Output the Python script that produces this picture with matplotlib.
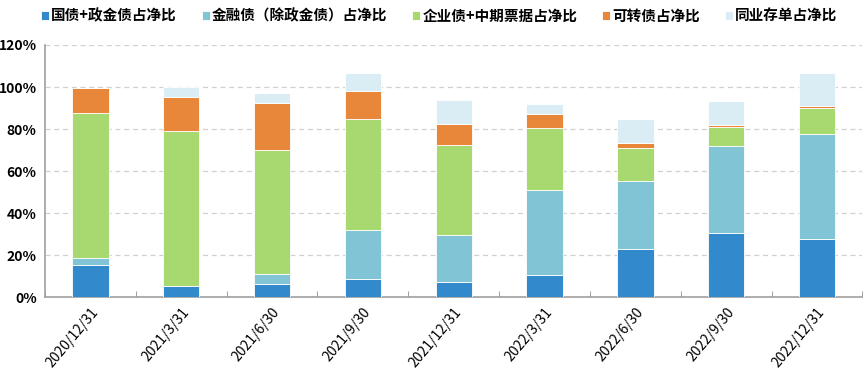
import matplotlib
matplotlib.use("Agg")
import matplotlib.pyplot as plt
import matplotlib.transforms as mtransforms
import numpy as np

plt.rcParams['font.family'] = ['Noto Sans CJK SC', 'DejaVu Sans']

categories = ["2020/12/31", "2021/3/31", "2021/6/30", "2021/9/30", "2021/12/31",
              "2022/3/31", "2022/6/30", "2022/9/30", "2022/12/31"]
series_names = ["国债+政金债占净比", "金融债（除政金债）占净比", "企业债+中期票据占净比",
                "可转债占净比", "同业存单占净比"]
gov = [15.2, 5.3, 6.2, 8.8, 7.2, 10.7, 23.0, 30.5, 27.5]
fin = [3.3, 0.0, 4.8, 23.1, 22.3, 40.4, 32.4, 41.3, 49.9]
corp = [68.9, 73.8, 58.9, 53.0, 43.1, 29.3, 15.4, 9.1, 12.4]
conv = [12.3, 16.3, 22.3, 13.2, 10.0, 6.7, 2.6, 0.9, 1.3]
cd = [0.0, 4.8, 4.9, 8.8, 11.0, 4.8, 11.5, 11.5, 15.5]
yticks = [0, 20, 40, 60, 80, 100, 120]

colors = ['#328ACD', '#80C4D6', '#A8D870', '#E8873A', '#DAEDF4']

fig = plt.figure(figsize=(8.65, 3.82), dpi=100)
ax = fig.add_axes([0.052, 0.2225, 0.945, 0.6597])

x = np.arange(len(categories))
bottom = np.zeros(len(categories))
handles = []
for name, vals, c in zip(series_names, [gov, fin, corp, conv, cd], colors):
    b = ax.bar(x, vals, 0.4, bottom=bottom, color=c, edgecolor='white', linewidth=0.6,
               label=name, zorder=3)
    handles.append(b)
    bottom += np.array(vals)

ax.set_xlim(-0.5, len(categories) - 0.5)
ax.set_ylim(0, 120)
ax.set_yticks(yticks)
ax.set_yticklabels([f"{v}%" for v in yticks], fontweight='bold', fontsize=10)
for v in yticks[1:]:
    ax.axhline(v, color='#D0D0D0', linestyle=(0, (4, 3)), linewidth=0.9, zorder=1)

ax.set_xticks(x)
ax.set_xticklabels(categories, rotation=50, ha='right', rotation_mode='anchor', fontsize=10)
offset = mtransforms.ScaledTranslation(12 / 72, 0, fig.dpi_scale_trans)
for lab in ax.get_xticklabels():
    lab.set_transform(lab.get_transform() + offset)
ax.tick_params(axis='x', length=0, pad=6)
ax.tick_params(axis='y', length=0, pad=6)
ax.set_xticks(np.arange(-0.5, len(categories) + 0.5, 1), minor=True)
ax.tick_params(axis='x', which='minor', direction='in', length=4, color='#909090')

for s in ['top', 'right']:
    ax.spines[s].set_visible(False)
for s in ['left', 'bottom']:
    ax.spines[s].set_color('#A0A0A0')
    ax.spines[s].set_linewidth(1.2)

fig.legend(handles=handles, loc='upper center', bbox_to_anchor=(0.508, 1.015), ncol=5,
           frameon=False, handlelength=0.55, handleheight=0.55,
           handletextpad=0.15, columnspacing=1.7, prop={'weight': 'bold', 'size': 10.5})

fig.savefig("out.png", dpi=100)
